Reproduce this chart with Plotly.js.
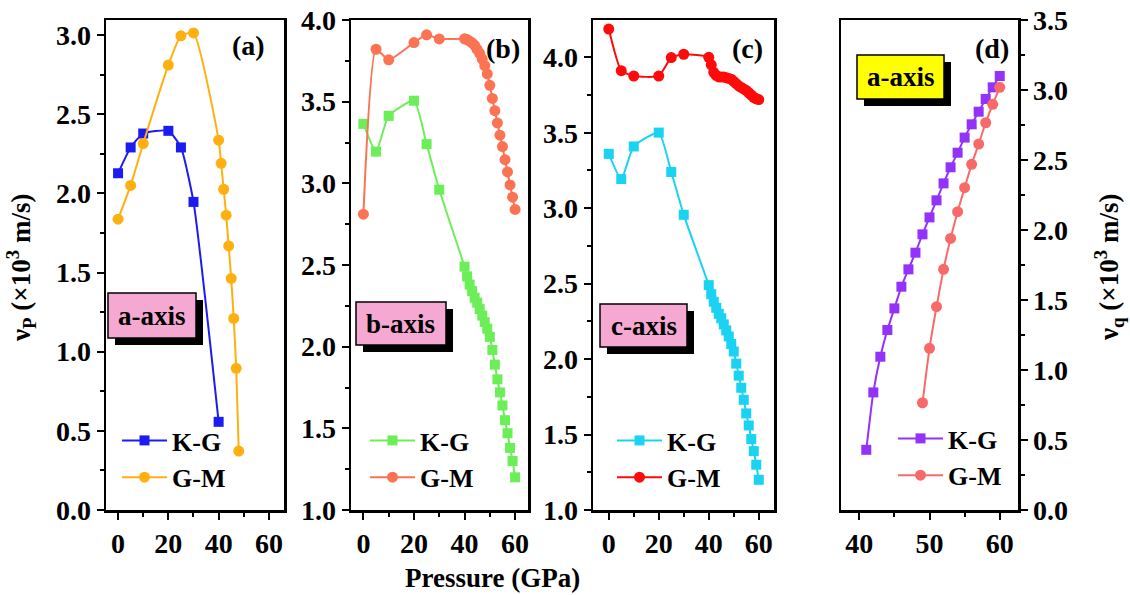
<!DOCTYPE html>
<html>
<head>
<meta charset="utf-8">
<script src="https://cdn.plot.ly/plotly-3.0.1.min.js"></script>
<style>html,body{margin:0;padding:0;background:#fff}#chart{width:1130px;height:595px}</style>
</head>
<body>
<div id="chart"></div>
<script>
// ---------- DATA ----------
const panelLabels = ['(a)', '(b)', '(c)', '(d)'];
const axisLabels = ['a-axis', 'b-axis', 'c-axis', 'a-axis'];
const seriesNames = ['K-G', 'G-M'];

const aKG_x = [0, 5, 10, 20, 25, 30, 40];
const aKG_y = [2.127, 2.29, 2.378, 2.395, 2.29, 1.946, 0.557];
const aGM_x = [0, 5, 10, 20, 25, 30, 40, 41, 42, 43, 44, 45, 46, 47, 48];
const aGM_y = [1.837, 2.05, 2.315, 2.81, 2.995, 3.013, 2.336, 2.19, 2.026, 1.862, 1.668, 1.463, 1.21, 0.895, 0.372];

const bc_x = [0, 5, 10, 20, 25, 30, 40, 41, 42, 43, 44, 45, 46, 47, 48, 49, 50, 51, 52, 53, 54, 55, 56, 57, 58, 59, 60];
const bKG_y = [3.364, 3.194, 3.413, 3.506, 3.24, 2.961, 2.49, 2.43, 2.38, 2.34, 2.30, 2.27, 2.23, 2.19, 2.15, 2.11, 2.06, 1.98, 1.89, 1.80, 1.72, 1.64, 1.55, 1.47, 1.38, 1.30, 1.20];
const bGM_y = [2.811, 3.821, 3.756, 3.862, 3.909, 3.884, 3.885, 3.88, 3.87, 3.86, 3.845, 3.82, 3.795, 3.76, 3.72, 3.67, 3.60, 3.52, 3.445, 3.37, 3.295, 3.225, 3.145, 3.07, 2.99, 2.915, 2.84];
const cKG_y = [3.36, 3.193, 3.409, 3.501, 3.24, 2.956, 2.49, 2.43, 2.38, 2.34, 2.30, 2.27, 2.23, 2.19, 2.15, 2.10, 2.05, 1.97, 1.89, 1.81, 1.73, 1.64, 1.56, 1.47, 1.39, 1.30, 1.20];
const cGM_y = [4.187, 3.911, 3.876, 3.876, 3.998, 4.02, 4.00, 3.95, 3.90, 3.88, 3.87, 3.87, 3.87, 3.865, 3.86, 3.855, 3.84, 3.825, 3.81, 3.80, 3.79, 3.78, 3.765, 3.75, 3.735, 3.725, 3.72];

const dKG_x = [41, 42, 43, 44, 45, 46, 47, 48, 49, 50, 51, 52, 53, 54, 55, 56, 57, 58, 59, 60];
const dKG_y = [0.43, 0.84, 1.095, 1.286, 1.44, 1.595, 1.719, 1.838, 1.969, 2.09, 2.212, 2.333, 2.448, 2.552, 2.66, 2.755, 2.845, 2.936, 3.019, 3.10];
const dGM_x = [49, 50, 51, 52, 53, 54, 55, 56, 57, 58, 59, 60];
const dGM_y = [0.766, 1.155, 1.452, 1.719, 1.94, 2.131, 2.302, 2.469, 2.614, 2.766, 2.898, 3.019];

// ---------- STYLE ----------
const W = 1130, H = 595;
const fx = p => p / W;
const fy = p => 1 - p / H;
const FONT = 'Liberation Serif, Times New Roman, serif';
const tickFont = {family: FONT, size: 28, color: '#000', weight: 'bold'};

function tr(x, y, name, color, sym, size, xa, ya, lg) {
  return {
    x: x, y: y, name: name, type: 'scatter', mode: 'lines+markers',
    xaxis: xa, yaxis: ya, legend: lg,
    line: {color: color, width: 2, shape: 'spline', smoothing: 0.5},
    marker: {color: color, symbol: sym, size: size},
    hoverinfo: 'skip'
  };
}

const traces = [
  tr(aKG_x, aKG_y, seriesNames[0], '#1c1cf0', 'square', 10, 'x', 'y', 'legend'),
  tr(aGM_x, aGM_y, seriesNames[1], '#ffb010', 'circle', 11, 'x', 'y', 'legend'),
  tr(bc_x, bKG_y, seriesNames[0], '#6cee58', 'square', 10, 'x2', 'y2', 'legend2'),
  tr(bc_x, bGM_y, seriesNames[1], '#fb7352', 'circle', 11, 'x2', 'y2', 'legend2'),
  tr(bc_x, cKG_y, seriesNames[0], '#1ad3f2', 'square', 10, 'x3', 'y3', 'legend3'),
  tr(bc_x, cGM_y, seriesNames[1], '#ff0a0a', 'circle', 11, 'x3', 'y3', 'legend3'),
  tr(dKG_x, dKG_y, seriesNames[0], '#9333fa', 'square', 10, 'x4', 'y4', 'legend4'),
  tr(dGM_x, dGM_y, seriesNames[1], '#f86a6a', 'circle', 11, 'x4', 'y4', 'legend4')
];

const yDom = [fy(510), fy(20)];
function xax(dom, range, dtick, minor, anchor) {
  return {
    domain: dom, range: range, anchor: anchor, dtick: dtick, tick0: 0,
    showline: true, linecolor: '#000', linewidth: 2.5, mirror: true,
    ticks: 'outside', ticklen: 7, tickwidth: 2, tickcolor: '#000',
    minor: {dtick: minor, ticks: 'outside', ticklen: 4, tickwidth: 2, tickcolor: '#000'},
    showgrid: false, zeroline: false, tickfont: tickFont, fixedrange: true
  };
}
function yax(range, anchor, side) {
  return {
    domain: yDom, range: range, anchor: anchor, side: side || 'left',
    dtick: 0.5, tick0: 0, tickformat: '.1f',
    showline: true, linecolor: '#000', linewidth: 2.5, mirror: true,
    ticks: 'outside', ticklen: 7, tickwidth: 2, tickcolor: '#000',
    minor: {dtick: 0.25, ticks: 'outside', ticklen: 4, tickwidth: 2, tickcolor: '#000'},
    showgrid: false, zeroline: false, tickfont: tickFont, fixedrange: true
  };
}

function leg(xpx, ypx) {
  return {x: fx(xpx), y: fy(ypx), xanchor: 'left', yanchor: 'top',
    bgcolor: 'rgba(0,0,0,0)', borderwidth: 0,
    font: {family: FONT, size: 26, color: '#000', weight: 'bold'},
    tracegroupgap: 0, itemwidth: 45};
}

// label boxes [x0, y0, x1, y1] in pixels
const boxes = [
  {b: [108, 293, 196, 338], fill: '#f5a8d2'},
  {b: [356, 302, 446, 345], fill: '#f5a8d2'},
  {b: [600, 304, 687, 347], fill: '#f5a8d2'},
  {b: [857, 55, 944, 99], fill: '#ffff00'}
];
const shapes = [];
const annotations = [];
boxes.forEach((bx, i) => {
  const [x0, y0, x1, y1] = bx.b;
  shapes.push({type: 'rect', xref: 'paper', yref: 'paper', x0: fx(x0 + 7), x1: fx(x1 + 7), y0: fy(y0 + 7), y1: fy(y1 + 7), fillcolor: '#000', line: {width: 0}});
  shapes.push({type: 'rect', xref: 'paper', yref: 'paper', x0: fx(x0), x1: fx(x1), y0: fy(y0), y1: fy(y1), fillcolor: bx.fill, line: {color: '#000', width: 1.5}});
  annotations.push({xref: 'paper', yref: 'paper', x: fx((x0 + x1) / 2), y: fy((y0 + y1) / 2), text: axisLabels[i], showarrow: false, xanchor: 'center', yanchor: 'middle', font: {family: FONT, size: 27, color: '#000', weight: 'bold'}});
});
const panelPos = [[248, 46], [503, 48], [747, 48], [992, 48]];
panelLabels.forEach((t, i) => {
  annotations.push({xref: 'paper', yref: 'paper', x: fx(panelPos[i][0]), y: fy(panelPos[i][1]), text: t, showarrow: false, xanchor: 'center', yanchor: 'middle', font: {family: FONT, size: 28, color: '#000', weight: 'bold'}});
});
annotations.push({xref: 'paper', yref: 'paper', x: fx(21), y: fy(268), text: 'ν<sub>P</sub> (×10<sup>3</sup> m/s)', textangle: -90, showarrow: false, xanchor: 'center', yanchor: 'middle', font: {family: FONT, size: 27, color: '#000', weight: 'bold'}});
annotations.push({xref: 'paper', yref: 'paper', x: fx(1109), y: fy(268), text: 'ν<sub>q</sub> (×10<sup>3</sup> m/s)', textangle: -90, showarrow: false, xanchor: 'center', yanchor: 'middle', font: {family: FONT, size: 27, color: '#000', weight: 'bold'}});
annotations.push({xref: 'paper', yref: 'paper', x: fx(492), y: fy(578), text: 'Pressure (GPa)', showarrow: false, xanchor: 'center', yanchor: 'middle', font: {family: FONT, size: 27, color: '#000', weight: 'bold'}});

const layout = {
  width: W, height: H, margin: {l: 0, r: 0, t: 0, b: 0},
  paper_bgcolor: '#fff', plot_bgcolor: '#fff', showlegend: true,
  xaxis: xax([fx(106), fx(284)], [-4.8, 66], 20, 10, 'y'),
  yaxis: yax([0, 3.095], 'x'),
  xaxis2: xax([fx(351), fx(528)], [-4.9, 65.1], 20, 10, 'y2'),
  yaxis2: yax([1, 4], 'x2'),
  xaxis3: xax([fx(593), fx(774)], [-6.3, 66.1], 20, 10, 'y3'),
  yaxis3: yax([1, 4.247], 'x3'),
  xaxis4: xax([fx(841), fx(1018)], [37.4, 62.6], 10, 5, 'y4'),
  yaxis4: yax([0, 3.5], 'x4', 'right'),
  legend: leg(117, 417),
  legend2: leg(365, 417),
  legend3: leg(612, 417),
  legend4: leg(893, 415),
  shapes: shapes, annotations: annotations
};

Plotly.newPlot('chart', traces, layout, {staticPlot: true, displayModeBar: false});
</script>
</body>
</html>
